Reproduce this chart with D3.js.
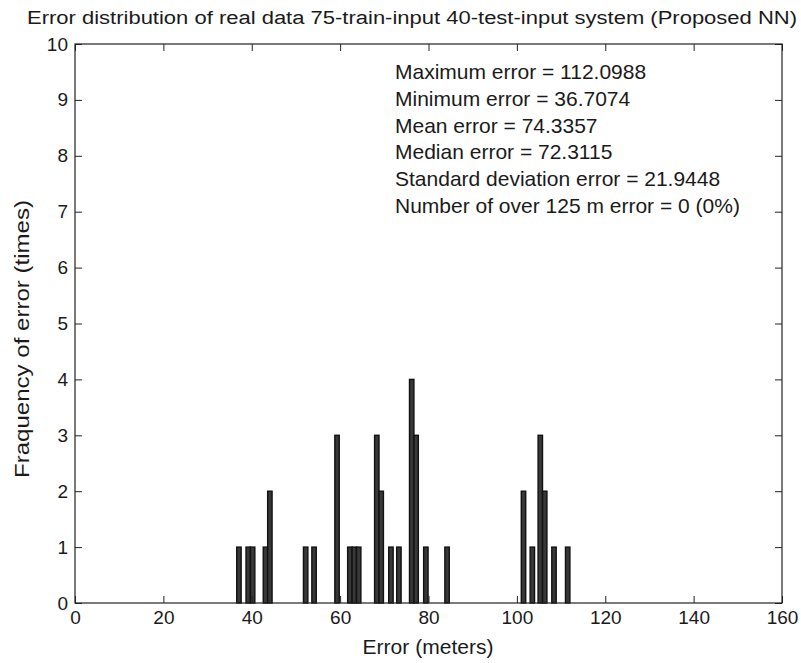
<!DOCTYPE html>
<html>
<head>
<meta charset="utf-8">
<script src="https://cdn.jsdelivr.net/npm/d3@7"></script>
<style>
  html, body { margin: 0; padding: 0; background: #fff; }
  svg { display: block; }
  text { font-family: "Liberation Sans", Arial, Helvetica, sans-serif; fill: #1a1a1a; }
</style>
</head>
<body>
<svg id="chart" width="801" height="663"></svg>
<script>
// ---- data ----
const binCenters = [37.1, 39.2, 40.2, 43.1, 44.1, 52.2, 54.1, 59.3, 62.2, 63.2, 64.2,
                    68.3, 69.3, 71.5, 73.3, 76.2, 77.2, 79.4, 84.2,
                    101.5, 103.5, 105.3, 106.3, 108.4, 111.5];
const counts     = [1, 1, 1, 1, 2, 1, 1, 3, 1, 1, 1,
                    3, 2, 1, 1, 4, 3, 1, 1,
                    2, 1, 3, 2, 1, 1];
const binWidth = 1;
const xTicks = [0, 20, 40, 60, 80, 100, 120, 140, 160];
const yTicks = [0, 1, 2, 3, 4, 5, 6, 7, 8, 9, 10];
const titleText = "Error distribution of real data 75-train-input 40-test-input system (Proposed NN)";
const xLabel = "Error (meters)";
const yLabel = "Fraquency of error (times)";
const statLines = [
  "Maximum error = 112.0988",
  "Minimum error = 36.7074",
  "Mean error = 74.3357",
  "Median error = 72.3115",
  "Standard deviation error = 21.9448",
  "Number of over 125 m error = 0 (0%)"
];

// ---- layout ----
const svg = d3.select("#chart");
const L = 75, R = 782, T = 44, B = 603;
const x = d3.scaleLinear().domain([0, 160]).range([L, R]);
const y = d3.scaleLinear().domain([0, 10]).range([B, T]);

// bars
svg.append("g").selectAll("rect")
  .data(binCenters.map((c, i) => ({ c, n: counts[i] })))
  .join("rect")
  .attr("x", d => x(d.c - binWidth / 2))
  .attr("width", d => x(d.c + binWidth / 2) - x(d.c - binWidth / 2))
  .attr("y", d => y(d.n))
  .attr("height", d => y(0) - y(d.n))
  .attr("fill", "#383838")
  .attr("stroke", "#111")
  .attr("stroke-width", 1.4);

// axes (ticks inward, mirrored on top and right)
const tickLen = 7;
const axStyle = g => {
  g.select(".domain").remove();
  g.selectAll(".tick line").attr("stroke", "#222").attr("stroke-width", 1);
  g.selectAll(".tick text").style("font-size", "19px").attr("fill", "#1a1a1a");
};
svg.append("g").attr("transform", `translate(0,${B})`)
  .call(d3.axisBottom(x).tickValues(xTicks).tickFormat(d3.format("d")).tickSizeInner(-tickLen).tickSizeOuter(0).tickPadding(8))
  .call(axStyle);
svg.append("g").attr("transform", `translate(0,${T})`)
  .call(d3.axisTop(x).tickValues(xTicks).tickFormat("").tickSizeInner(-tickLen).tickSizeOuter(0))
  .call(axStyle);
svg.append("g").attr("transform", `translate(${L},0)`)
  .call(d3.axisLeft(y).tickValues(yTicks).tickFormat(d3.format("d")).tickSizeInner(-tickLen).tickSizeOuter(0).tickPadding(7))
  .call(axStyle);
svg.append("g").attr("transform", `translate(${R},0)`)
  .call(d3.axisRight(y).tickValues(yTicks).tickFormat("").tickSizeInner(-tickLen).tickSizeOuter(0))
  .call(axStyle);

// frame
svg.append("rect").attr("x", L).attr("y", T).attr("width", R - L).attr("height", B - T)
  .attr("fill", "none").attr("stroke", "#222").attr("stroke-width", 1.2);

// title
svg.append("text").attr("x", 412).attr("y", 24).attr("text-anchor", "middle")
  .style("font-size", "18px")
  .attr("textLength", 770).attr("lengthAdjust", "spacingAndGlyphs")
  .text(titleText);

// axis labels
svg.append("text").attr("x", 428).attr("y", 654).attr("text-anchor", "middle")
  .style("font-size", "20px")
  .attr("textLength", 131).attr("lengthAdjust", "spacingAndGlyphs")
  .text(xLabel);
svg.append("text").attr("transform", `translate(29,339) rotate(-90)`)
  .attr("text-anchor", "middle").style("font-size", "20px")
  .attr("textLength", 278).attr("lengthAdjust", "spacingAndGlyphs")
  .text(yLabel);

// statistics
svg.append("g").selectAll("text").data(statLines).join("text")
  .attr("x", 395).attr("y", (d, i) => 79 + i * 26.8)
  .style("font-size", "21px")
  .text(d => d);
</script>
</body>
</html>
